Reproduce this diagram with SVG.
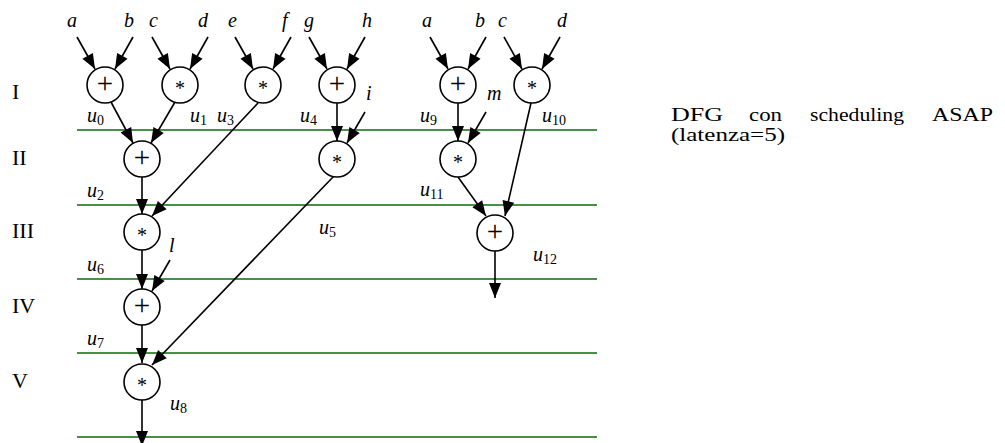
<svg xmlns="http://www.w3.org/2000/svg" width="1005" height="443" viewBox="0 0 1005 443">
<style>
  .node circle { fill: #fff; stroke: #000; stroke-width: 1.6; }
  .op { font-family: "Liberation Serif", "DejaVu Serif", serif; text-anchor: middle; fill: #000; }
  .plus { font-size: 29px; }
  .ast { font-size: 20px; }
  .edges path { fill: none; stroke: #000; stroke-width: 1.6; marker-end: url(#ah); }
  .step line { stroke: #0b6a0b; stroke-width: 1.6; }
  .var { font-family: "Liberation Serif", "DejaVu Serif", serif; font-style: italic; font-size: 20px; fill: #000; }
  .sub { font-style: normal; font-size: 14px; }
  .rom { font-family: "Liberation Serif", "DejaVu Serif", serif; font-size: 22px; fill: #000; }
  .cap { font-family: "Liberation Serif", "DejaVu Serif", serif; font-size: 19px; fill: #000; }
</style>
<defs>
  <marker id="ah" markerUnits="userSpaceOnUse" markerWidth="16" markerHeight="13" refX="15" refY="6" orient="auto" overflow="visible">
    <path d="M0,0 L15,6 L0,12 Z" fill="#000"/>
  </marker>
</defs>
<rect width="1005" height="443" fill="#fff"/>

<g id="steps" class="step">
  <line x1="77" y1="130" x2="597" y2="130"/>
  <line x1="77" y1="205" x2="597" y2="205"/>
  <line x1="77" y1="279" x2="597" y2="279"/>
  <line x1="77" y1="353" x2="597" y2="353"/>
  <line x1="77" y1="437" x2="597" y2="437"/>
</g>

<g id="step-labels">
  <text class="rom" x="12" y="99">I</text>
  <text class="rom" x="12" y="165">II</text>
  <text class="rom" x="12" y="238">III</text>
  <text class="rom" x="12" y="313">IV</text>
  <text class="rom" x="12" y="388">V</text>
</g>

<g id="inputs">
  <text class="var" x="67" y="27">a</text>
  <text class="var" x="124" y="27">b</text>
  <text class="var" x="149" y="27">c</text>
  <text class="var" x="198" y="27">d</text>
  <text class="var" x="228" y="27">e</text>
  <text class="var" x="282" y="27">f</text>
  <text class="var" x="304" y="27">g</text>
  <text class="var" x="362" y="27">h</text>
  <text class="var" x="422" y="27">a</text>
  <text class="var" x="475" y="27">b</text>
  <text class="var" x="498" y="27">c</text>
  <text class="var" x="557" y="27">d</text>
  <text class="var" x="366" y="100">i</text>
  <text class="var" x="487" y="100">m</text>
  <text class="var" x="169" y="252">l</text>
</g>

<g id="connectors" class="edges">
  <path d="M77,37 L95,69"/>
  <path d="M133,37 L115,69"/>
  <path d="M152,37 L170,69"/>
  <path d="M208,37 L190,69"/>
  <path d="M235,37 L253,69"/>
  <path d="M291,37 L273,69"/>
  <path d="M309,37 L327,69"/>
  <path d="M365,37 L347,69"/>
  <path d="M430,37 L448,69"/>
  <path d="M486,37 L468,69"/>
  <path d="M504,37 L522,69"/>
  <path d="M560,37 L542,69"/>
  <path d="M111,102 L133,143"/>
  <path d="M175,102 L151,143"/>
  <path d="M337,103 L337,141"/>
  <path d="M365,112 L347,143"/>
  <path d="M458,103 L458,141"/>
  <path d="M486,112 L468,143"/>
  <path d="M258,103 L152,216"/>
  <path d="M142,177 L142,214"/>
  <path d="M458,177 L486,216"/>
  <path d="M531,103 L505,216"/>
  <path d="M142,250 L142,289"/>
  <path d="M170,260 L152,291"/>
  <path d="M142,325 L142,363"/>
  <path d="M334,176 L152,365"/>
  <path d="M142,400 L142,446"/>
  <path d="M495,251 L495,298"/>
</g>

<g id="n0" class="node"><circle cx="105" cy="85" r="18"/><text class="op plus" x="105" y="93">+</text></g>
<g id="n1" class="node"><circle cx="180" cy="85" r="18"/><text class="op ast" x="180" y="95">*</text></g>
<g id="n3" class="node"><circle cx="263" cy="85" r="18"/><text class="op ast" x="263" y="95">*</text></g>
<g id="n4" class="node"><circle cx="337" cy="85" r="18"/><text class="op plus" x="337" y="93">+</text></g>
<g id="n9" class="node"><circle cx="458" cy="85" r="18"/><text class="op plus" x="458" y="93">+</text></g>
<g id="n10" class="node"><circle cx="532" cy="85" r="18"/><text class="op ast" x="532" y="95">*</text></g>
<g id="n2" class="node"><circle cx="142" cy="159" r="18"/><text class="op plus" x="142" y="167">+</text></g>
<g id="n5" class="node"><circle cx="337" cy="159" r="18"/><text class="op ast" x="337" y="169">*</text></g>
<g id="n11" class="node"><circle cx="458" cy="159" r="18"/><text class="op ast" x="458" y="169">*</text></g>
<g id="n6" class="node"><circle cx="142" cy="232" r="18"/><text class="op ast" x="142" y="242">*</text></g>
<g id="n12" class="node"><circle cx="495" cy="233" r="18"/><text class="op plus" x="495" y="241">+</text></g>
<g id="n7" class="node"><circle cx="142" cy="307" r="18"/><text class="op plus" x="142" y="315">+</text></g>
<g id="n8" class="node"><circle cx="142" cy="382" r="18"/><text class="op ast" x="142" y="392">*</text></g>

<g id="edge-labels">
  <text class="var" x="87" y="122">u<tspan class="sub" dy="3">0</tspan></text>
  <text class="var" x="190" y="122">u<tspan class="sub" dy="3">1</tspan></text>
  <text class="var" x="217" y="122">u<tspan class="sub" dy="3">3</tspan></text>
  <text class="var" x="300" y="122">u<tspan class="sub" dy="3">4</tspan></text>
  <text class="var" x="420" y="122">u<tspan class="sub" dy="3">9</tspan></text>
  <text class="var" x="542" y="122">u<tspan class="sub" dy="3">10</tspan></text>
  <text class="var" x="87" y="197">u<tspan class="sub" dy="3">2</tspan></text>
  <text class="var" x="420" y="196">u<tspan class="sub" dy="3">11</tspan></text>
  <text class="var" x="319" y="234">u<tspan class="sub" dy="3">5</tspan></text>
  <text class="var" x="87" y="271">u<tspan class="sub" dy="3">6</tspan></text>
  <text class="var" x="533" y="261">u<tspan class="sub" dy="3">12</tspan></text>
  <text class="var" x="87" y="345">u<tspan class="sub" dy="3">7</tspan></text>
  <text class="var" x="170" y="410">u<tspan class="sub" dy="3">8</tspan></text>
</g>

<g id="caption">
  <text class="cap" x="671" y="121" textLength="52" lengthAdjust="spacingAndGlyphs">DFG</text>
  <text class="cap" x="749" y="121" textLength="33" lengthAdjust="spacingAndGlyphs">con</text>
  <text class="cap" x="810" y="121" textLength="94" lengthAdjust="spacingAndGlyphs">scheduling</text>
  <text class="cap" x="932" y="121" textLength="61" lengthAdjust="spacingAndGlyphs">ASAP</text>
  <text class="cap" x="671" y="141" textLength="114" lengthAdjust="spacingAndGlyphs">(latenza=5)</text>
</g>
</svg>
